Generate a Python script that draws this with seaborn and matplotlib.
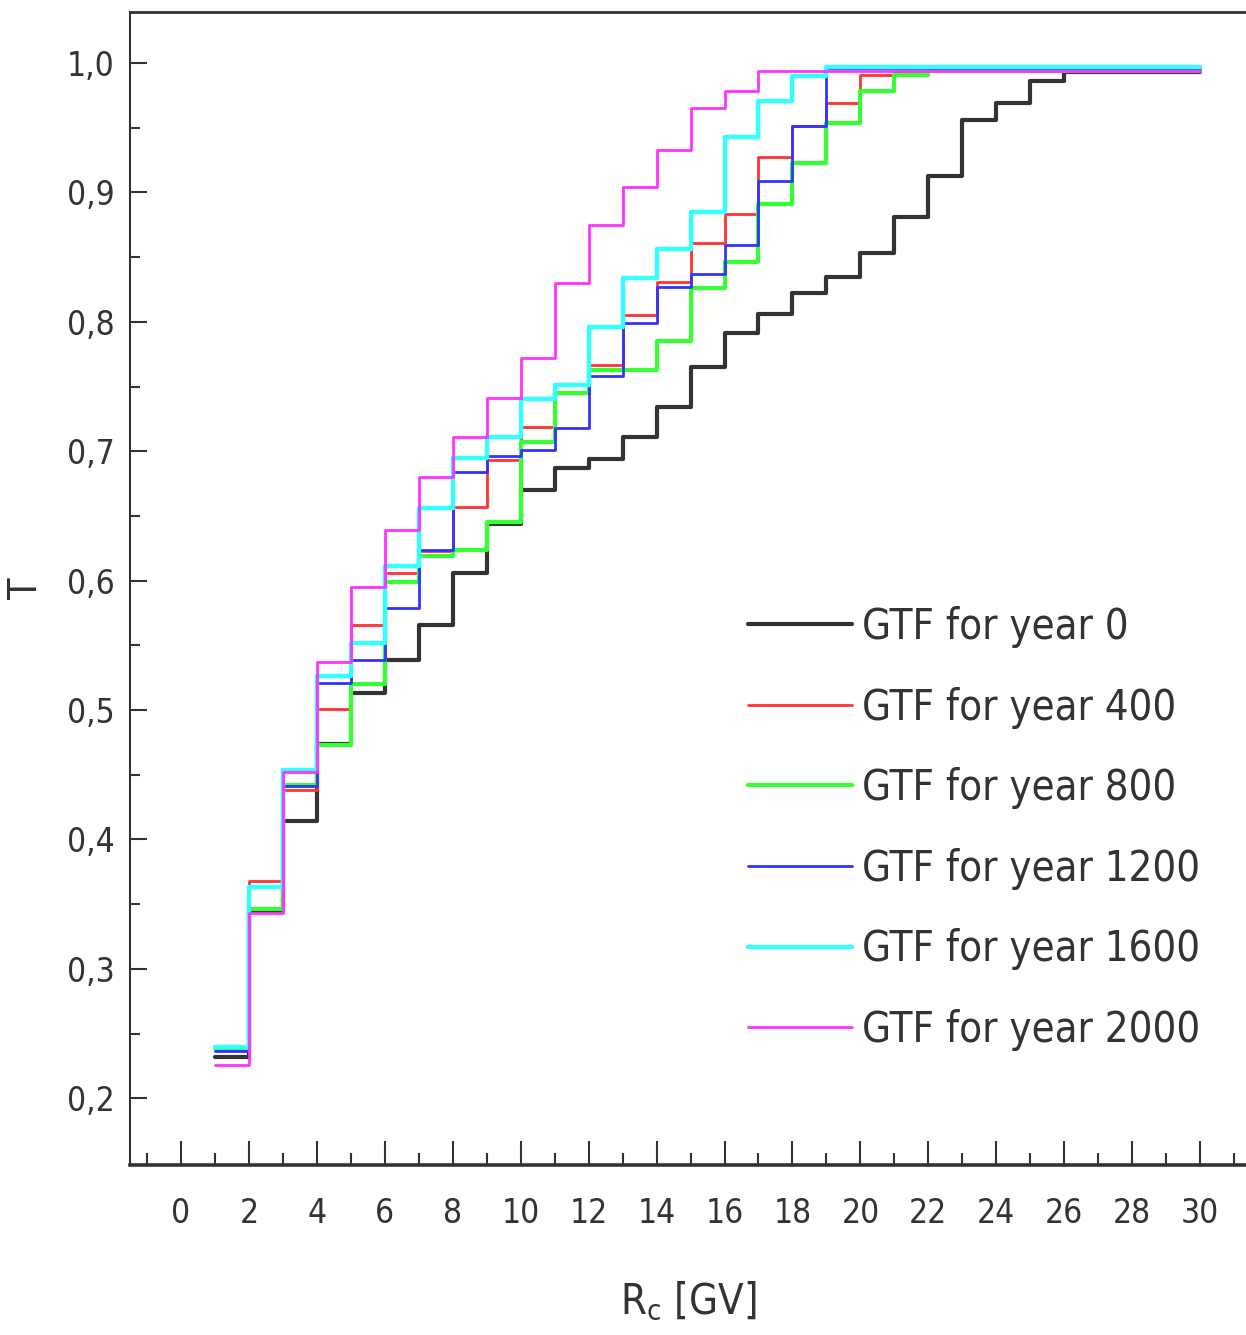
import numpy as np
import pandas as pd
import matplotlib
matplotlib.use("Agg")
import matplotlib.pyplot as plt
from matplotlib import font_manager
import seaborn as sns
from matplotlib.ticker import FixedLocator

# Cutoff rigidity bin edges in GV; each value holds on [edge, edge + 1)
rigidity_edges = np.arange(1, 31)

# Geomagnetic transmission function per epoch (one value per 1 GV bin)
gtf_year_0 = [0.232, 0.345, 0.414, 0.474, 0.513, 0.539, 0.566, 0.606, 0.644, 0.670,
              0.687, 0.694, 0.711, 0.734, 0.765, 0.791, 0.806, 0.822, 0.835, 0.853,
              0.881, 0.913, 0.956, 0.969, 0.986, 0.993, 0.993, 0.993, 0.993]
gtf_year_400 = [0.237, 0.368, 0.438, 0.501, 0.566, 0.606, 0.623, 0.657, 0.693, 0.719,
                0.745, 0.767, 0.805, 0.831, 0.861, 0.883, 0.927, 0.951, 0.969, 0.991,
                0.994, 0.994, 0.994, 0.994, 0.994, 0.994, 0.994, 0.994, 0.994]
gtf_year_800 = [0.239, 0.346, 0.442, 0.473, 0.520, 0.599, 0.619, 0.624, 0.645, 0.707,
                0.745, 0.763, 0.763, 0.785, 0.826, 0.846, 0.891, 0.923, 0.954, 0.978,
                0.991, 0.994, 0.994, 0.994, 0.994, 0.994, 0.994, 0.994, 0.994]
gtf_year_1200 = [0.2365, 0.364, 0.441, 0.521, 0.539, 0.579, 0.624, 0.684, 0.696, 0.701,
                 0.718, 0.758, 0.799, 0.827, 0.837, 0.859, 0.909, 0.951, 0.996, 0.996,
                 0.996, 0.996, 0.996, 0.996, 0.996, 0.996, 0.996, 0.996, 0.996]
gtf_year_1600 = [0.240, 0.363, 0.454, 0.526, 0.552, 0.611, 0.656, 0.695, 0.711, 0.740,
                 0.751, 0.796, 0.834, 0.856, 0.885, 0.943, 0.971, 0.990, 0.997, 0.997,
                 0.997, 0.997, 0.997, 0.997, 0.997, 0.997, 0.997, 0.997, 0.997]
gtf_year_2000 = [0.226, 0.343, 0.452, 0.537, 0.595, 0.639, 0.680, 0.711, 0.741, 0.772,
                 0.830, 0.875, 0.904, 0.933, 0.965, 0.978, 0.994, 0.994, 0.994, 0.994,
                 0.994, 0.994, 0.994, 0.994, 0.994, 0.994, 0.994, 0.994, 0.994]

series_labels = ["GTF for year 0", "GTF for year 400", "GTF for year 800",
                 "GTF for year 1200", "GTF for year 1600", "GTF for year 2000"]
series_values = [gtf_year_0, gtf_year_400, gtf_year_800,
                 gtf_year_1200, gtf_year_1600, gtf_year_2000]
series_colors = ["#333333", "#ff3333", "#33ff33", "#3333ff", "#33ffff", "#ff33ff"]
series_widths = [3.0, 2.0, 3.0, 2.0, 3.2, 2.0]

x_tick_values = list(range(0, 31, 2))
y_tick_values = [0.2, 0.3, 0.4, 0.5, 0.6, 0.7, 0.8, 0.9, 1.0]
y_tick_labels = ["0,2", "0,3", "0,4", "0,5", "0,6", "0,7", "0,8", "0,9", "1,0"]

sns.set_theme(style="white")

# Prefer a narrow sans face when one is installed; otherwise shrink a regular one
narrow_faces = [f for f in font_manager.fontManager.ttflist
                if ("Narrow" in f.name or "Condensed" in f.name
                    or f.stretch in ("condensed", "semi-condensed"))
                and "Mono" not in f.name and "Serif" not in f.name]
if narrow_faces:
    face = narrow_faces[0]
    plt.rcParams["font.family"] = [face.name, "DejaVu Sans"]
    plt.rcParams["font.stretch"] = face.stretch
    tick_size, legend_size, xlabel_size, ylabel_size = 24, 30, 30, 28
    label_spacing, handle_len, text_pad = 0.925, 2.5, 0.24
else:
    plt.rcParams["font.family"] = ["Liberation Sans", "DejaVu Sans"]
    tick_size, legend_size, xlabel_size, ylabel_size = 24.5, 30, 31, 28
    label_spacing, handle_len, text_pad = 0.9, 2.45, 0.24
plt.rcParams["mathtext.default"] = "regular"
text_color = "#333333"

fig = plt.figure(figsize=(12.46, 13.35), dpi=100)
ax = fig.add_axes([0.1043, 0.1273, 0.8957, 0.8637])

for label, values, color, lw in zip(series_labels, series_values, series_colors, series_widths):
    frame = pd.DataFrame({
        "Rc": rigidity_edges,
        "T": list(values) + [values[-1]],
    })
    sns.lineplot(data=frame, x="Rc", y="T", ax=ax, color=color, linewidth=lw,
                 drawstyle="steps-post", estimator=None, sort=False, label=label)

ax.set_xlim(-1.5, 31.35)
ax.set_ylim(0.1484, 1.0394)

ax.xaxis.set_major_locator(FixedLocator(x_tick_values))
ax.xaxis.set_minor_locator(FixedLocator(list(range(-1, 32, 2))))
ax.set_xticklabels([str(v) for v in x_tick_values])
ax.yaxis.set_major_locator(FixedLocator(y_tick_values))
ax.yaxis.set_minor_locator(FixedLocator([v + 0.05 for v in y_tick_values[:-1]]))
ax.set_yticklabels(y_tick_labels)

ax.tick_params(axis="x", which="major", direction="in", length=17, width=1.5,
               pad=23, labelsize=tick_size, colors=text_color, bottom=True)
ax.tick_params(axis="x", which="minor", direction="in", length=8.5, width=1.5,
               bottom=True, colors=text_color)
ax.tick_params(axis="y", which="major", direction="in", length=12, width=1.5,
               pad=11, labelsize=tick_size, colors=text_color, left=True)
ax.tick_params(axis="y", which="minor", direction="in", length=7, width=1.5,
               left=True, colors=text_color)

for side, w in [("left", 1.5), ("bottom", 2.6), ("top", 2.0)]:
    ax.spines[side].set_visible(True)
    ax.spines[side].set_linewidth(w)
    ax.spines[side].set_color(text_color)
ax.spines["right"].set_visible(False)

ax.set_xlabel("R$_c$ [GV]", fontsize=xlabel_size, color=text_color, labelpad=36)
ax.set_ylabel("T", fontsize=ylabel_size, color=text_color, labelpad=16)

ax.legend(loc="upper left", bbox_to_anchor=(748 / 1246, 1 - 606 / 1335),
          bbox_transform=fig.transFigure, frameon=False, fontsize=legend_size,
          handlelength=handle_len, handletextpad=text_pad, labelspacing=label_spacing,
          borderpad=0, borderaxespad=0, labelcolor=text_color)

fig.savefig("out.png", dpi=100)
